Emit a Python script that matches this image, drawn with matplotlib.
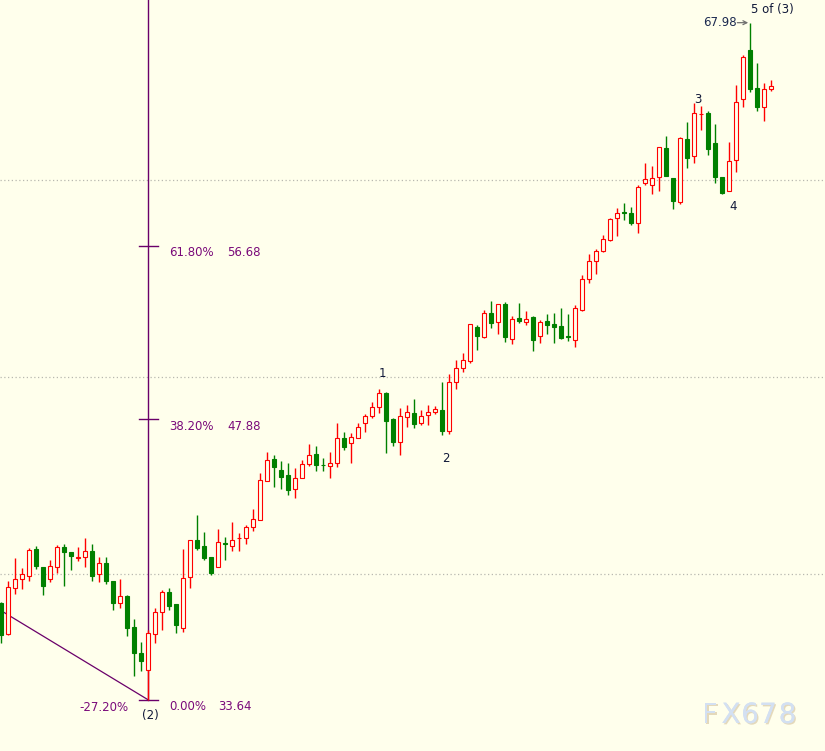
import matplotlib.pyplot as plt
import matplotlib.patheffects as pe

# OHLC, one entry per bar, left to right
OPEN = [38.56, 36.99, 39.32, 39.77, 39.94, 41.30, 40.40, 39.77, 40.40, 41.40,
        41.16, 40.84, 40.89, 41.19, 40.03, 40.60, 39.69, 38.56, 38.91, 37.36,
        36.04, 35.18, 36.99, 38.10, 39.12, 38.51, 37.29, 39.88, 41.75, 41.45,
        40.87, 40.37, 41.58, 41.46, 41.84, 41.84, 42.40, 42.77, 44.76, 45.84,
        45.30, 45.05, 44.32, 44.91, 45.59, 46.11, 45.55, 45.52, 45.64, 46.91,
        46.65, 46.91, 47.70, 48.04, 48.51, 49.19, 47.87, 46.74, 48.00, 48.18,
        47.67, 48.07, 48.26, 48.34, 47.29, 49.75, 50.46, 50.84, 52.54, 52.06,
        53.25, 52.82, 53.70, 51.93, 52.99, 52.82, 53.04, 52.11, 52.86, 52.70,
        52.60, 52.07, 51.89, 53.41, 54.96, 55.90, 56.40, 56.96, 58.06, 58.36,
        58.32, 57.84, 59.87, 59.75, 60.17, 61.61, 60.09, 58.87, 62.07, 61.22,
        63.34, 63.39, 61.86, 60.14, 59.46, 61.02, 64.10, 66.60, 64.65, 63.72,
        64.60]
HIGH = [38.61, 39.67, 40.84, 40.35, 41.35, 41.45, 40.40, 40.74, 41.50, 41.55,
        41.16, 41.41, 41.85, 41.55, 40.89, 40.89, 39.69, 39.77, 38.96, 37.75,
        36.58, 37.19, 38.30, 39.22, 39.32, 38.51, 41.30, 41.75, 43.02, 42.16,
        40.87, 42.31, 41.90, 42.66, 42.11, 42.51, 43.32, 45.16, 46.23, 46.05,
        45.76, 45.67, 45.39, 45.81, 46.62, 46.52, 45.89, 46.23, 47.70, 47.21,
        47.19, 47.67, 48.12, 48.73, 49.41, 49.25, 47.92, 48.43, 48.60, 48.89,
        48.34, 48.60, 48.55, 49.78, 50.15, 50.88, 51.22, 52.69, 52.65, 53.41,
        53.87, 53.70, 53.80, 53.11, 53.78, 53.36, 53.11, 52.91, 53.21, 53.28,
        53.50, 53.21, 53.67, 55.19, 56.25, 56.51, 57.22, 58.09, 58.57, 58.82,
        58.62, 59.75, 60.85, 60.71, 61.66, 62.23, 60.09, 62.20, 62.93, 63.91,
        63.76, 63.50, 62.84, 60.14, 61.92, 64.82, 66.34, 67.98, 65.95, 64.91,
        65.07]
LOW = [36.53, 36.95, 39.01, 39.27, 39.69, 40.28, 38.96, 39.62, 40.08, 39.43,
       40.23, 40.70, 40.40, 39.67, 39.64, 39.52, 38.20, 38.30, 36.90, 34.87,
       35.13, 33.64, 36.53, 37.19, 38.20, 37.04, 37.10, 39.33, 41.25, 40.74,
       39.98, 40.37, 40.74, 41.21, 41.21, 41.53, 42.21, 42.77, 44.76, 44.45,
       44.34, 44.03, 43.87, 44.91, 45.52, 45.27, 45.25, 44.88, 45.47, 46.32,
       45.64, 46.91, 47.24, 47.92, 48.21, 46.18, 46.53, 46.06, 47.50, 47.45,
       47.58, 47.58, 48.14, 47.08, 47.13, 49.41, 50.28, 50.74, 51.39, 51.98,
       52.52, 52.20, 51.81, 51.69, 52.77, 52.65, 51.33, 51.76, 52.20, 51.76,
       51.94, 51.86, 51.55, 53.37, 54.77, 55.22, 56.34, 56.91, 57.18, 57.98,
       57.72, 57.33, 59.75, 59.28, 59.46, 60.21, 58.52, 58.79, 60.60, 60.88,
       62.54, 61.27, 59.87, 59.30, 59.46, 60.42, 63.72, 64.48, 63.52, 63.01,
       64.53]
CLOSE = [36.94, 39.37, 39.77, 40.03, 41.25, 40.45, 39.43, 40.43, 41.40, 41.14,
         40.96, 40.91, 41.19, 39.94, 40.59, 39.69, 38.56, 38.91, 37.31, 36.04,
         35.63, 37.04, 38.10, 39.12, 38.42, 37.44, 39.83, 41.75, 41.36, 40.85,
         40.06, 41.64, 41.56, 41.74, 41.86, 42.40, 42.80, 44.79, 45.79, 45.45,
         44.96, 44.29, 44.88, 45.59, 46.05, 45.55, 45.53, 45.64, 46.91, 46.48,
         46.96, 47.50, 48.04, 48.48, 49.19, 47.80, 46.74, 48.04, 48.23, 47.62,
         48.04, 48.23, 48.38, 47.29, 49.75, 50.46, 50.88, 52.69, 52.11, 53.25,
         52.77, 53.70, 52.06, 52.94, 52.87, 52.94, 51.89, 52.79, 52.65, 52.57,
         52.01, 52.05, 53.50, 54.98, 55.90, 56.40, 57.00, 58.01, 58.32, 58.34,
         57.84, 59.63, 60.04, 60.09, 61.66, 60.21, 58.95, 62.15, 61.10, 63.39,
         63.37, 61.56, 60.14, 59.36, 60.98, 63.94, 66.22, 64.60, 63.72, 64.60,
         64.78]

# fibonacci tool anchored at the wave (2) low
FIB_LABELS = ['61.80%', '38.20%', '0.00%']
FIB_VALUES = [56.68, 47.88, 33.64]
FIB_BASE = 21
FIB_EXT_LABEL = '-27.20%'
TREND_X = [-0.19, 21]
TREND_Y = [38.20, 33.64]

GRID_LEVELS = [40, 50, 60]

# elliott wave counts: text, bar index, anchored on high or low
WAVES = [('1', 54, 'high'), ('2', 63, 'low'), ('3', 99, 'high'),
         ('4', 103, 'low'), ('5 of (3)', 107, 'high')]
PEAK_BAR = 107

WATERMARK = 'FX678'

BG = '#ffffec'
UP = '#ff0000'
DOWN = '#008000'
FIB_COLOR = '#6a006a'
FIB_TEXT = '#7a0a7a'
TEXT_DARK = '#101838'

fig = plt.figure(figsize=(8.25, 7.51), dpi=100, facecolor=BG)
ax = fig.add_axes([0, 0, 1, 1])
ax.set_axis_off()
ax.set_xlim(-0.19, 117.67)
ax.set_ylim(31.05, 69.13)

for lvl in GRID_LEVELS:
    ax.axhline(lvl, color='#b8b8b0', lw=0.9, ls=(0, (1, 2)), zorder=1)

# fib tool
ax.plot([FIB_BASE, FIB_BASE], [min(FIB_VALUES), 70], color=FIB_COLOR, lw=1.0, zorder=1)
ax.plot(TREND_X, TREND_Y, color=FIB_COLOR, lw=0.9, zorder=1)
for lab, val in zip(FIB_LABELS, FIB_VALUES):
    ax.plot([FIB_BASE - 1.3, FIB_BASE + 1.45], [val, val], color=FIB_COLOR, lw=1.0, zorder=1)
    ax.annotate(lab, xy=(FIB_BASE, val), xytext=(21, -7), textcoords='offset pixels',
                ha='left', va='center', color=FIB_TEXT, fontsize=8.5)
    vx = 70 if val == min(FIB_VALUES) else 79
    ax.annotate(f'{val:.2f}', xy=(FIB_BASE, val), xytext=(vx, -7), textcoords='offset pixels',
                ha='left', va='center', color=FIB_TEXT, fontsize=8.5)
ax.annotate(FIB_EXT_LABEL, xy=(FIB_BASE, min(FIB_VALUES)), xytext=(-20, -7.5),
            textcoords='offset pixels', ha='right', va='center', color=FIB_TEXT, fontsize=8.5)
ax.annotate('(2)', xy=(FIB_BASE, min(FIB_VALUES)), xytext=(2, -16), textcoords='offset pixels',
            ha='center', va='center', color=TEXT_DARK, fontsize=8.5)

# candles
idx = list(range(len(OPEN)))
up = [c >= o for o, c in zip(OPEN, CLOSE)]
wick_colors = [UP if u else DOWN for u in up]
ax.vlines(idx, LOW, HIGH, colors=wick_colors, lw=1.0, zorder=2)
body_lo = [min(o, c) for o, c in zip(OPEN, CLOSE)]
body_h = [abs(c - o) for o, c in zip(OPEN, CLOSE)]
ax.bar(idx, body_h, bottom=body_lo, width=0.6,
       facecolor=[BG if u else DOWN for u in up],
       edgecolor=wick_colors, linewidth=0.8, zorder=3)

# wave labels
for txt, i, side in WAVES:
    if txt == '5 of (3)':
        off = (22, 13)
    elif txt == '4':
        off = (11, -13)
    elif txt == '3':
        off = (4, 3)
    elif side == 'high':
        off = (3, 15)
    else:
        off = (4, -24)
    y = HIGH[i] if side == 'high' else LOW[i]
    ax.annotate(txt, xy=(i, y), xytext=off, textcoords='offset pixels',
                ha='center', va='center', color=TEXT_DARK, fontsize=8.5)

# peak price marker
peak = HIGH[PEAK_BAR]
ax.annotate('', xy=(PEAK_BAR, peak), xytext=(-13, 0), textcoords='offset pixels',
            arrowprops=dict(arrowstyle='->', color='#707070', lw=0.9,
                            shrinkA=0, shrinkB=1.5, mutation_scale=7))
ax.annotate(f'{peak:.2f}', xy=(PEAK_BAR, peak), xytext=(-14, 0), textcoords='offset pixels',
            ha='right', va='center', color='#1c2a50', fontsize=8.5)

# letter-spaced watermark, bottom right
shadow = [pe.withSimplePatchShadow(offset=(1.0, -1.0), shadow_rgbFace='#cbb58c', alpha=0.5),
          pe.Normal()]
for ch, px in zip(WATERMARK, [710, 731, 750, 768, 787.5]):
    fig.text(px / 825, 0.048, ch, fontsize=20, color='#d3e0f2', ha='center', va='center',
             path_effects=shadow)

fig.savefig('out.png', dpi=100, facecolor=BG)
